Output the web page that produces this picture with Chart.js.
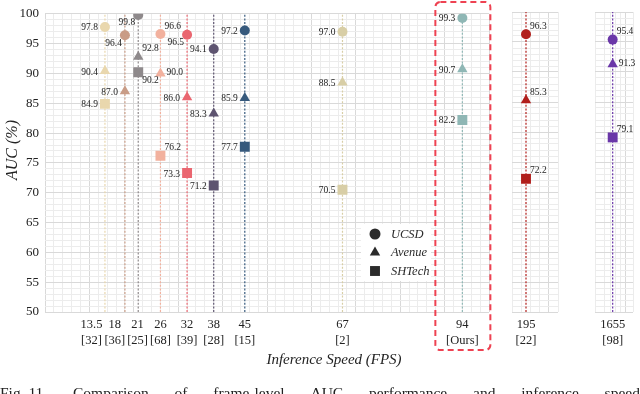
<!DOCTYPE html>
<html>
<head>
<meta charset="utf-8">
<script src="https://cdn.jsdelivr.net/npm/chart.js@4.4.0/dist/chart.umd.min.js"></script>
<style>
  html, body { margin: 0; padding: 0; background: #fff; }
  #wrap { position: relative; width: 640px; height: 394px; overflow: hidden; }
  #wrap canvas { position: absolute; left: 0; top: 0; }
  #caption { position: absolute; left: 0; top: 385px; width: 640px; display: flex; justify-content: space-between;
             font: 15.5px "Liberation Serif", serif; color: #222; line-height: 15px; }
</style>
</head>
<body>
<div id="wrap">
  <canvas id="main" width="640" height="394"></canvas>
  <canvas id="p2" width="640" height="394"></canvas>
  <canvas id="p3" width="640" height="394"></canvas>
  <div id="caption"><span>Fig. 11.</span><span>Comparison</span><span>of</span><span>frame-level</span><span>AUC</span><span>performance</span><span>and</span><span>inference</span><span>speed</span></div>
</div>
<script>
// methods: inference speed (FPS) and reference tag
const speeds = [13.5, 18, 21, 26, 32, 38, 45, 67, 94, 195, 1655];
const refs = ['[32]', '[36]', '[25]', '[68]', '[39]', '[28]', '[15]', '[2]', '[Ours]', '[22]', '[98]'];

// AUC (%) per dataset
const ucsd = [97.8, 96.4, 99.8, 96.6, 96.5, 94.1, 97.2, 97.0, 99.3, 96.3, 95.4];
const avenue = [90.4, 87.0, 92.8, 90.0, 86.0, 83.3, 85.9, 88.5, 90.7, 85.3, 91.3];
const shtech = [84.9, null, 90.2, 76.2, 73.3, 71.2, 77.7, 70.5, 82.2, 72.2, 79.1];
const seriesNames = ['UCSD', 'Avenue', 'SHTech'];

const yTicks = [50, 55, 60, 65, 70, 75, 80, 85, 90, 95, 100];

// styling
const colors = ['#e9d7ad', '#c99c86', '#8e898b', '#f2b19e', '#ea6670', '#5e5470',
                '#36597c', '#d8cea6', '#8fb7b5', '#b11f1c', '#6a37a8'];
const shapes = ['circle', 'triangle', 'rect'];
const radii = [5, 6, 7];
// where each value label sits: l = left, bl = below left, ar = above right, r = right, br = below right
const labelPos = [
  ['l', 'bl', 'bl', 'ar', 'bl', 'l', 'l', 'l', 'l', 'ar', 'ar'],
  ['l', 'l', 'ar', 'r', 'l', 'l', 'l', 'l', 'l', 'ar', 'r'],
  ['l', null, 'br', 'ar', 'l', 'l', 'l', 'l', 'l', 'ar', 'ar']
];
const MAJOR = '#d9d9d9';
const MINOR = '#ececec';
const SERIF = '"Liberation Serif", "Times New Roman", serif';

const panels = [
  { id: 'main', min: 0, max: 100, left: 45, right: 489, showY: true },
  { id: 'p2', min: 191.85, max: 202.2, left: 512, right: 558, showY: false },
  { id: 'p3', min: 1648.3, max: 1662.7, left: 595, right: 638, showY: false }
];

const isMultiple = (v, m) => Math.abs(v / m - Math.round(v / m)) < 1e-6;

const xLabels = {
  id: 'xLabels',
  afterDraw(chart) {
    const xs = chart.scales.x, ctx = chart.ctx, area = chart.chartArea;
    ctx.save();
    ctx.font = '12.5px ' + SERIF;
    ctx.fillStyle = '#222';
    ctx.textAlign = 'center';
    ctx.textBaseline = 'middle';
    const items = [];
    speeds.forEach((s, i) => {
      if (s < xs.min || s > xs.max) return;
      const w = Math.max(ctx.measureText(String(s)).width, ctx.measureText(refs[i]).width);
      items.push({ i, c: xs.getPixelForValue(s), w });
    });
    // push crowded labels to the left
    for (let j = items.length - 2; j >= 0; j--) {
      const limit = items[j + 1].c - items[j + 1].w / 2 - 2;
      if (items[j].c + items[j].w / 2 > limit) items[j].c = limit - items[j].w / 2;
    }
    items.forEach(it => {
      ctx.fillText(String(speeds[it.i]), it.c, area.bottom + 13);
      ctx.fillText(refs[it.i], it.c, area.bottom + 29);
    });
    ctx.restore();
  }
};

const valueLabels = {
  id: 'valueLabels',
  afterDatasetsDraw(chart) {
    const ctx = chart.ctx;
    ctx.save();
    ctx.font = '9.5px ' + SERIF;
    ctx.fillStyle = '#222';
    ctx.textBaseline = 'middle';
    chart.data.datasets.forEach((ds, d) => {
      if (ds.methodIndex === undefined) return;
      const meta = chart.getDatasetMeta(d);
      meta.data.forEach((el, n) => {
        const raw = ds.data[n];
        const pos = labelPos[raw.k][ds.methodIndex];
        const txt = raw.y.toFixed(1);
        let x = el.x, y = el.y;
        if (pos === 'l') { ctx.textAlign = 'right'; x -= 7; y += 1; }
        else if (pos === 'bl') { ctx.textAlign = 'right'; x -= 3; y += 8; }
        else if (pos === 'ar') { ctx.textAlign = 'left'; x += 4; y -= 8; }
        else if (pos === 'r') { ctx.textAlign = 'left'; x += 6; y -= 1; }
        else if (pos === 'br') { ctx.textAlign = 'left'; x += 4; y += 8; }
        ctx.fillText(txt, x, y);
      });
    });
    ctx.restore();
  }
};

const decorations = {
  id: 'decorations',
  afterDraw(chart) {
    const ctx = chart.ctx, xs = chart.scales.x;
    ctx.save();
    // axis titles
    ctx.fillStyle = '#222';
    ctx.textAlign = 'center';
    ctx.textBaseline = 'middle';
    ctx.font = 'italic 15px ' + SERIF;
    ctx.fillText('Inference Speed (FPS)', 334, 360);
    ctx.save();
    ctx.translate(13, 150);
    ctx.rotate(-Math.PI / 2);
    ctx.font = 'italic 16px ' + SERIF;
    ctx.fillText('AUC (%)', 0, 0);
    ctx.restore();

    // legend
    ctx.fillStyle = '#fff';
    ctx.fillRect(361, 224, 70, 57);
    seriesNames.forEach((name, k) => {
      const y = 234 + k * 18.5;
      ctx.fillStyle = '#2b2b2b';
      Chart.helpers.drawPoint(ctx, { pointStyle: shapes[k], radius: [5.5, 6, 7][k], rotation: 0, borderWidth: 0 }, 375, y);
      ctx.font = 'italic 12.5px ' + SERIF;
      ctx.textAlign = 'left';
      ctx.fillText(name, 391, y + 0.5);
    });

    // highlight box around our method
    const cx = xs.getPixelForValue(speeds[refs.indexOf('[Ours]')]);
    ctx.strokeStyle = '#ee4252';
    ctx.lineWidth = 2;
    ctx.setLineDash([6, 4]);
    ctx.beginPath();
    ctx.roundRect(cx - 27, 2, 55, 348, 5);
    ctx.stroke();
    ctx.restore();
  }
};

function makeChart(panel) {
  const inRange = i => speeds[i] >= panel.min && speeds[i] <= panel.max;
  const datasets = [];
  speeds.forEach((s, i) => {
    if (!inRange(i)) return;
    datasets.push({
      type: 'line',
      data: [{ x: s, y: 50 }, { x: s, y: 100 }],
      borderColor: colors[i],
      borderWidth: 1.2,
      borderDash: [2, 1.6],
      pointRadius: 0,
      order: 2
    });
  });
  speeds.forEach((s, i) => {
    if (!inRange(i)) return;
    const pts = [];
    [ucsd[i], avenue[i], shtech[i]].forEach((v, k) => {
      if (v !== null) pts.push({ x: s, y: v, k });
    });
    datasets.push({
      type: 'scatter',
      data: pts,
      methodIndex: i,
      backgroundColor: colors[i],
      borderWidth: 0,
      pointStyle: c => shapes[c.raw.k],
      pointRadius: c => radii[c.raw.k],
      order: 1
    });
  });

  const plugins = [valueLabels, xLabels];
  if (panel.showY) plugins.push(decorations);

  return new Chart(document.getElementById(panel.id), {
    type: 'scatter',
    data: { datasets },
    options: {
      responsive: false,
      animation: false,
      devicePixelRatio: 1,
      layout: { padding: { left: panel.showY ? 0 : panel.left, right: 640 - panel.right, top: 12, bottom: 0 } },
      plugins: { legend: { display: false }, tooltip: { enabled: false } },
      scales: {
        x: {
          type: 'linear',
          min: panel.min,
          max: panel.max,
          border: { display: false },
          ticks: { display: false, stepSize: 2 },
          grid: { drawTicks: false, color: c => isMultiple(c.tick.value, 10) ? MAJOR : MINOR },
          afterFit: s => { s.height = 82; }
        },
        y: {
          min: 50,
          max: 100,
          border: { display: false },
          ticks: {
            display: panel.showY,
            stepSize: 1,
            autoSkip: false,
            padding: 6,
            color: '#222',
            font: { family: SERIF, size: 13 },
            callback: v => yTicks.includes(v) ? String(v) : ''
          },
          grid: { drawTicks: false, color: c => isMultiple(c.tick.value, 5) ? MAJOR : MINOR },
          afterFit: s => { s.width = panel.showY ? panel.left : 0; }
        }
      }
    },
    plugins
  });
}

panels.forEach(makeChart);
</script>
</body>
</html>
